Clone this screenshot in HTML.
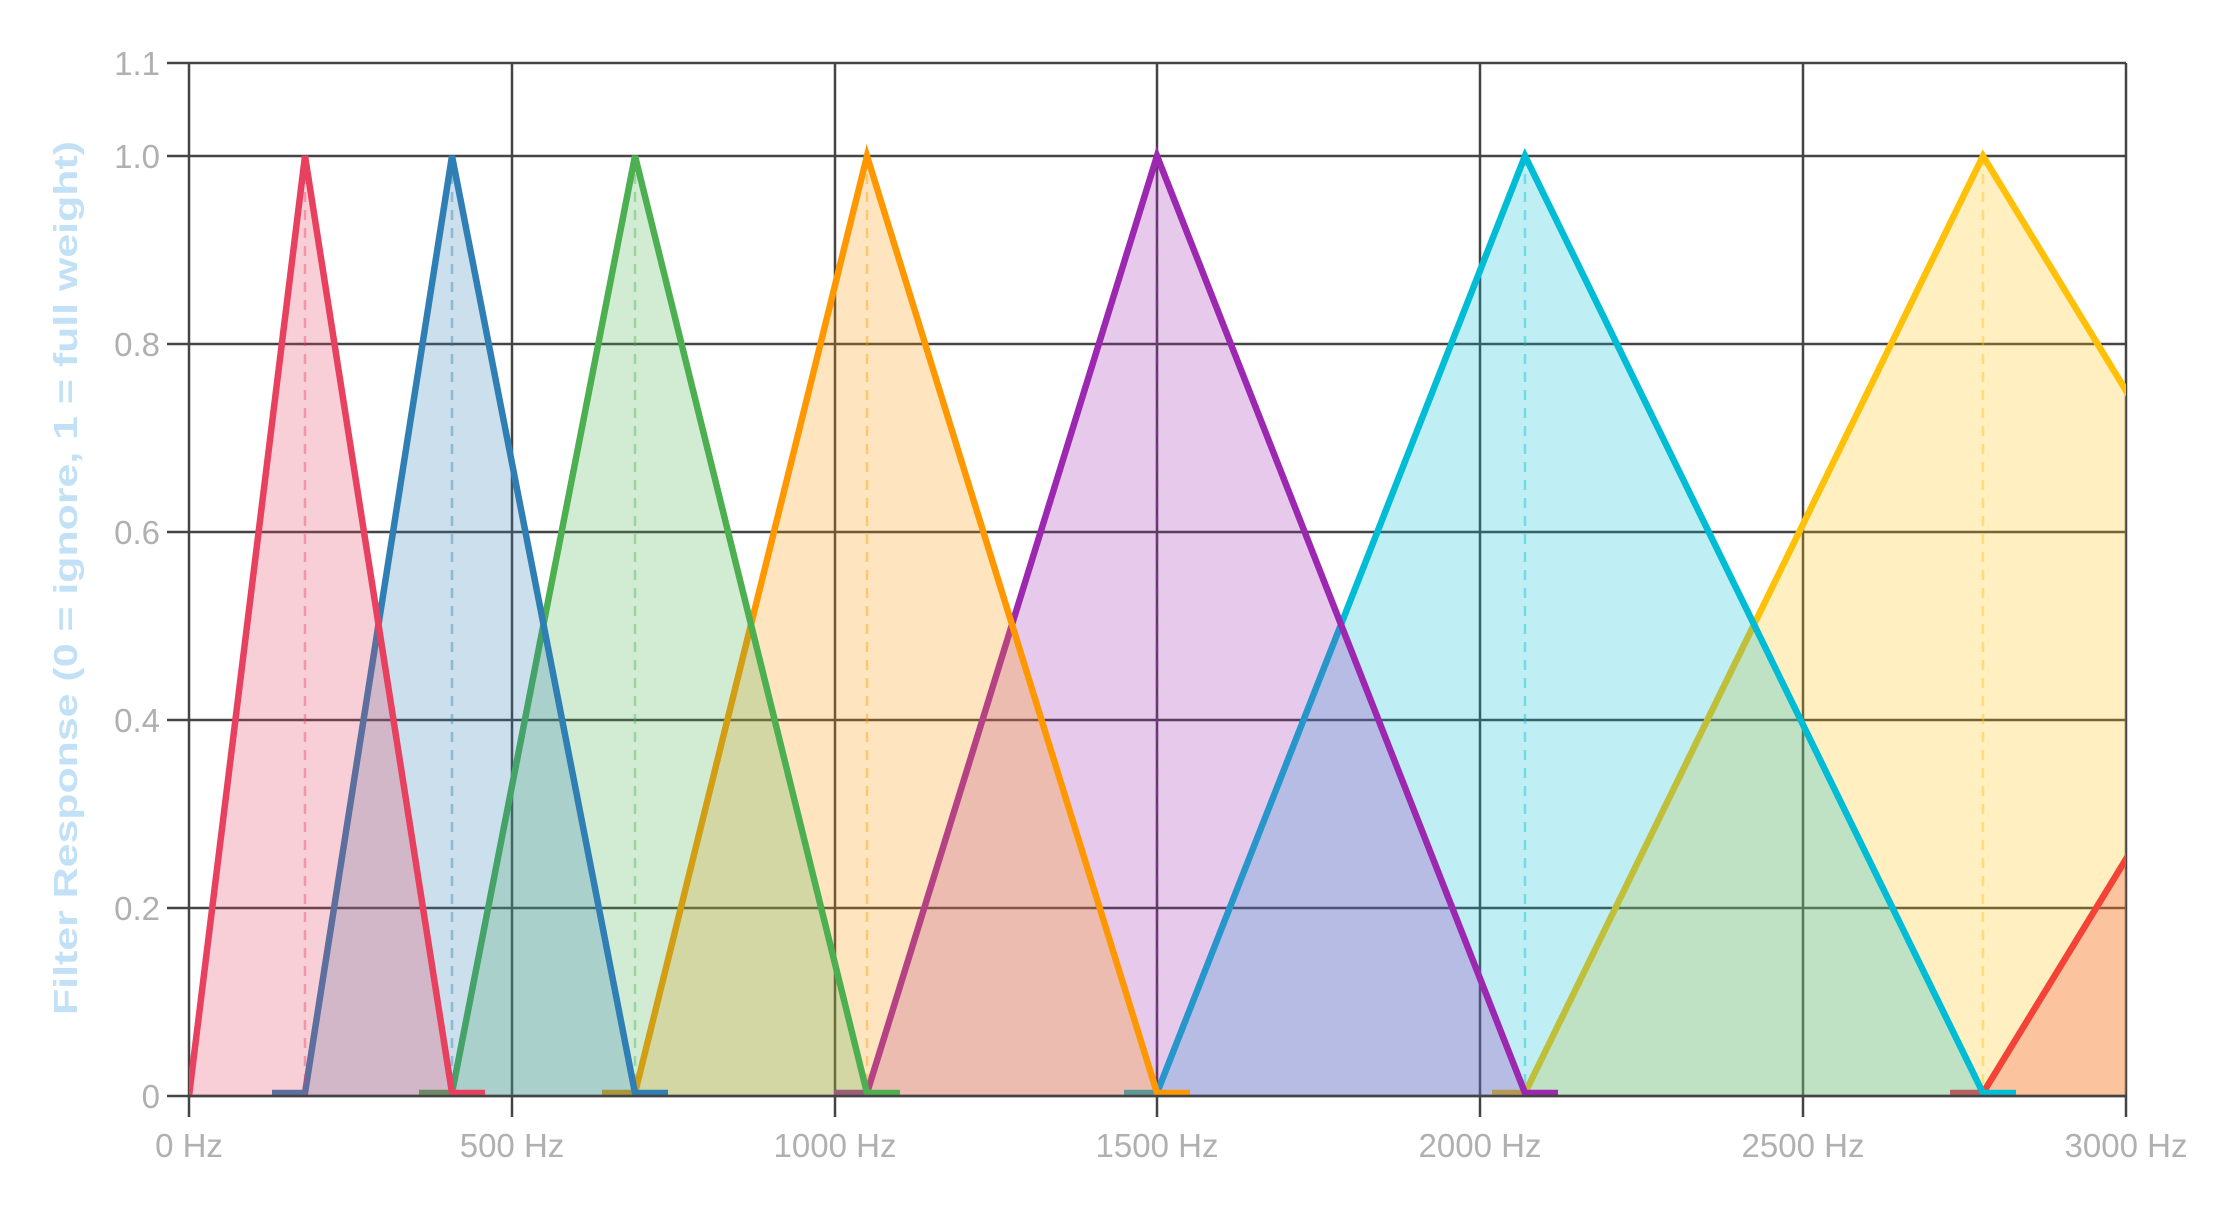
<!DOCTYPE html>
<html><head><meta charset="utf-8"><style>
html,body{margin:0;padding:0;background:#fff;}
svg{display:block;}
text{font-family:"Liberation Sans",sans-serif;}
</style></head><body>
<svg width="2230" height="1210" viewBox="0 0 2230 1210" xmlns="http://www.w3.org/2000/svg">
<defs><clipPath id="c"><rect x="189" y="40" width="1937" height="1062"/></clipPath></defs>
<g stroke="#444" stroke-width="2.5" fill="none">
<line x1="167" y1="63" x2="2126" y2="63"/>
<line x1="167" y1="156" x2="2126" y2="156"/>
<line x1="167" y1="344" x2="2126" y2="344"/>
<line x1="167" y1="532" x2="2126" y2="532"/>
<line x1="167" y1="720" x2="2126" y2="720"/>
<line x1="167" y1="908" x2="2126" y2="908"/>
<line x1="167" y1="1096" x2="2126" y2="1096"/>
<line x1="189" y1="63" x2="189" y2="1117"/>
<line x1="512" y1="63" x2="512" y2="1117"/>
<line x1="835" y1="63" x2="835" y2="1117"/>
<line x1="1157" y1="63" x2="1157" y2="1117"/>
<line x1="1480" y1="63" x2="1480" y2="1117"/>
<line x1="1803" y1="63" x2="1803" y2="1117"/>
<line x1="2126" y1="63" x2="2126" y2="1117"/>
</g>
<g clip-path="url(#c)" stroke-width="6.5" stroke-linejoin="miter" stroke-miterlimit="4">
<!-- 7 yellow -->
<polygon points="1525,1096 1983,156 2556,1096" fill="#ffc107" fill-opacity="0.25" stroke="none"/>
<line x1="1983" y1="156" x2="1983" y2="1096" stroke="#ffc107" stroke-opacity="0.4" stroke-width="2.5" stroke-dasharray="10 8"/>
<polyline points="1492,1093 1525,1093 1983,156 2556,1096" fill="none" stroke="#ffc107"/>
<!-- 8 red -->
<polygon points="1983,1096 2556,156 3129,1096" fill="#f44336" fill-opacity="0.25" stroke="none"/>
<polyline points="1950,1093 1983,1093 2556,156" fill="none" stroke="#f44336"/>
<!-- 6 cyan -->
<polygon points="1157,1096 1525,156 1983,1096" fill="#00bcd4" fill-opacity="0.25" stroke="none"/>
<line x1="1525" y1="156" x2="1525" y2="1096" stroke="#00bcd4" stroke-opacity="0.4" stroke-width="2.5" stroke-dasharray="10 8"/>
<polyline points="1124,1093 1157,1093 1525,156 1983,1093 2016,1093" fill="none" stroke="#00bcd4"/>
<!-- 5 purple -->
<polygon points="867,1096 1157,156 1525,1096" fill="#9c27b0" fill-opacity="0.25" stroke="none"/>
<line x1="1157" y1="156" x2="1157" y2="1096" stroke="#9c27b0" stroke-opacity="0.4" stroke-width="2.5" stroke-dasharray="10 8"/>
<polyline points="834,1093 867,1093 1157,156 1525,1093 1558,1093" fill="none" stroke="#9c27b0"/>
<!-- 4 orange -->
<polygon points="635,1096 867,156 1157,1096" fill="#ff9800" fill-opacity="0.25" stroke="none"/>
<line x1="867" y1="156" x2="867" y2="1096" stroke="#ff9800" stroke-opacity="0.4" stroke-width="2.5" stroke-dasharray="10 8"/>
<polyline points="602,1093 635,1093 867,156 1157,1093 1190,1093" fill="none" stroke="#ff9800"/>
<!-- 3 green -->
<polygon points="452,1096 635,156 867,1096" fill="#4caf50" fill-opacity="0.25" stroke="none"/>
<line x1="635" y1="156" x2="635" y2="1096" stroke="#4caf50" stroke-opacity="0.4" stroke-width="2.5" stroke-dasharray="10 8"/>
<polyline points="419,1093 452,1093 635,156 867,1093 900,1093" fill="none" stroke="#4caf50"/>
<!-- 2 blue -->
<polygon points="305,1096 452,156 635,1096" fill="#2f7fb5" fill-opacity="0.25" stroke="none"/>
<line x1="452" y1="156" x2="452" y2="1096" stroke="#2f7fb5" stroke-opacity="0.4" stroke-width="2.5" stroke-dasharray="10 8"/>
<polyline points="272,1093 305,1093 452,156 635,1093 668,1093" fill="none" stroke="#2f7fb5"/>
<!-- 1 red -->
<polygon points="189,1096 305,156 452,1096" fill="#e8415f" fill-opacity="0.25" stroke="none"/>
<line x1="305" y1="156" x2="305" y2="1096" stroke="#e8415f" stroke-opacity="0.4" stroke-width="2.5" stroke-dasharray="10 8"/>
<polyline points="189,1096 305,156 452,1093 485,1093" fill="none" stroke="#e8415f"/>
</g>
<line x1="189" y1="1096" x2="2126" y2="1096" stroke="#444" stroke-width="2.5"/>
<g fill="#b0b0b0" font-size="33" text-anchor="end">
<text x="160" y="75">1.1</text>
<text x="160" y="168">1.0</text>
<text x="160" y="356">0.8</text>
<text x="160" y="544">0.6</text>
<text x="160" y="732">0.4</text>
<text x="160" y="920">0.2</text>
<text x="160" y="1108">0</text>
</g>
<g fill="#b0b0b0" font-size="33" text-anchor="middle">
<text x="189" y="1157">0 Hz</text>
<text x="512" y="1157">500 Hz</text>
<text x="835" y="1157">1000 Hz</text>
<text x="1157" y="1157">1500 Hz</text>
<text x="1480" y="1157">2000 Hz</text>
<text x="1803" y="1157">2500 Hz</text>
<text x="2126" y="1157">3000 Hz</text>
</g>
<text transform="translate(77,578) rotate(-90)" text-anchor="middle" font-size="33" font-weight="bold" fill="#c2e1f7" textLength="874" lengthAdjust="spacingAndGlyphs">Filter Response (0 = ignore, 1 = full weight)</text>
</svg>
</body></html>
